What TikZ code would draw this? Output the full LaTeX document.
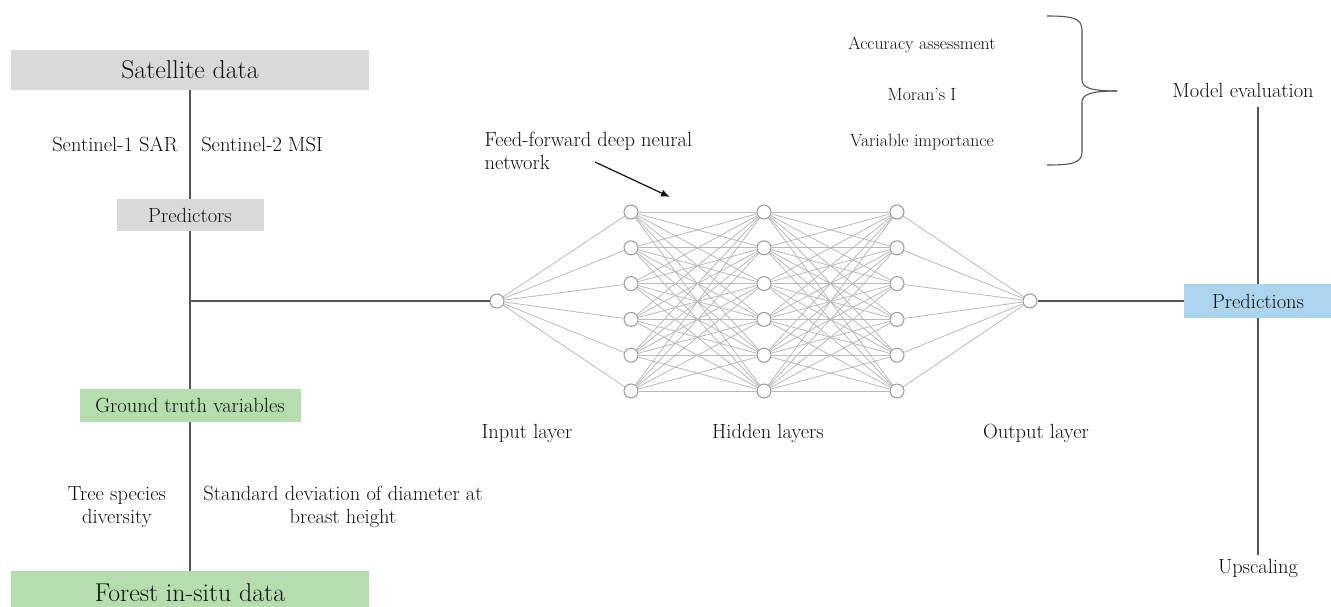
\documentclass[tikz,border=0pt]{standalone}
\usetikzlibrary{arrows.meta}
\definecolor{grigio}{RGB}{217,217,217}
\definecolor{verde}{RGB}{182,221,174}
\definecolor{azzurro}{RGB}{172,212,236}
\definecolor{linea}{RGB}{85,85,85}
\definecolor{scritta}{RGB}{15,15,15}
\tikzset{
  testo/.style={text=scritta, font=\fontsize{20.5}{23}\selectfont},
  piccolo/.style={text=scritta, font=\fontsize{17.7}{20}\selectfont},
  titolo/.style={text=scritta, font=\fontsize{25.8}{29}\selectfont},
  scatola/.style={fill=#1, inner sep=0pt},
  neurone/.style={circle, draw=gray!80, fill=white, minimum size=14pt, inner sep=0pt, line width=1pt},
  sinapsi/.style={draw=gray!55, line width=0.8pt},
  collegamento/.style={draw=linea, line width=1.4pt}
}
\begin{document}
\begin{tikzpicture}[x=1pt,y=-1pt]
      \useasboundingbox (0,0) rectangle (1331,606);
      %scatole
      \node[scatola=grigio, titolo, minimum width=358pt, minimum height=40pt] (sat) at (190,70) {Satellite data};
      \node[scatola=grigio, testo, minimum width=147pt, minimum height=32pt] (pred) at (190,215) {Predictors};
      \node[scatola=verde, testo, minimum width=221pt, minimum height=33pt] (ground) at (190,405.5) {Ground truth variables};
      \node[scatola=verde, minimum width=358pt, minimum height=40pt] (forest) at (190,591) {};
      \node[titolo] (forestlab) at (190,593) {Forest in-situ data};
      \node[scatola=azzurro, testo, minimum width=148pt, minimum height=34pt] (predizioni) at (1258,301) {Predictions};
      %etichette
      \node[testo] (s1) at (115,144) {Sentinel-1 SAR};
      \node[testo] (s2) at (262,144) {Sentinel-2 MSI};
      \node[testo, align=center] (tree) at (117,507) {Tree species\\diversity};
      \node[testo, align=center] (sd) at (343,507) {Standard deviation of diameter at\\breast height};
      \node[testo, align=left, anchor=west] (ffnn) at (481,151) {Feed-forward deep neural\\network};
      \node[testo] (inlab) at (527,433) {Input layer};
      \node[testo] (hidlab) at (768,433) {Hidden layers};
      \node[testo] (outlab) at (1036,433) {Output layer};
      \node[piccolo] (acc) at (922,45) {Accuracy assessment};
      \node[piccolo] (moran) at (922,94) {Moran's I};
      \node[piccolo] (varimp) at (922,142) {Variable importance};
      \node[testo] (modello) at (1243,90) {Model evaluation};
      \node[testo] (upscaling) at (1258,568) {Upscaling};
      %rete
      \node[neurone] (in) at (497,301) {};
      \foreach \l/\x in {1/631,2/764,3/897}
        \foreach \i in {1,...,6}
          \node[neurone] (h\l-\i) at (\x,{212+(\i-1)*35.8}) {};
      \node[neurone] (out) at (1030,301) {};
      \foreach \i in {1,...,6} {
        \draw[sinapsi] (in) -- (h1-\i);
        \draw[sinapsi] (h3-\i) -- (out);
      }
      \foreach \a/\b in {1/2,2/3}
        \foreach \i in {1,...,6}
          \foreach \j in {1,...,6}
            \draw[sinapsi] (h\a-\i) -- (h\b-\j);
      %linee
      \coordinate (incrocio) at (190,301);
      \draw[collegamento] (sat) -- (pred);
      \draw[collegamento] (pred) -- (ground);
      \draw[collegamento] (ground) -- (forest);
      \draw[collegamento] (incrocio) -- (in);
      \draw[collegamento] (out) -- (predizioni);
      \draw[collegamento] ([yshift=-6pt]predizioni.north |- modello.south) -- (predizioni.north);
      \draw[collegamento] (predizioni.south) -- (upscaling);
      %frecce
      \coordinate (coda) at (595,162);
      \coordinate (punta) at (670,197);
      \draw[-{Latex[length=9pt,width=7pt]},line width=1.2pt,scritta] (coda) -- (punta);
      %graffa
      \draw[collegamento, line width=1.1pt] (1047,16) .. controls (1072,16) and (1082,18) .. (1082,30) -- (1082,80)
        .. controls (1082,88) and (1092,91) .. (1117,91);
      \draw[collegamento, line width=1.1pt] (1117,91) .. controls (1092,91) and (1082,94) .. (1082,102) -- (1082,152)
        .. controls (1082,163) and (1072,165) .. (1047,165);
\end{tikzpicture}
\end{document}
